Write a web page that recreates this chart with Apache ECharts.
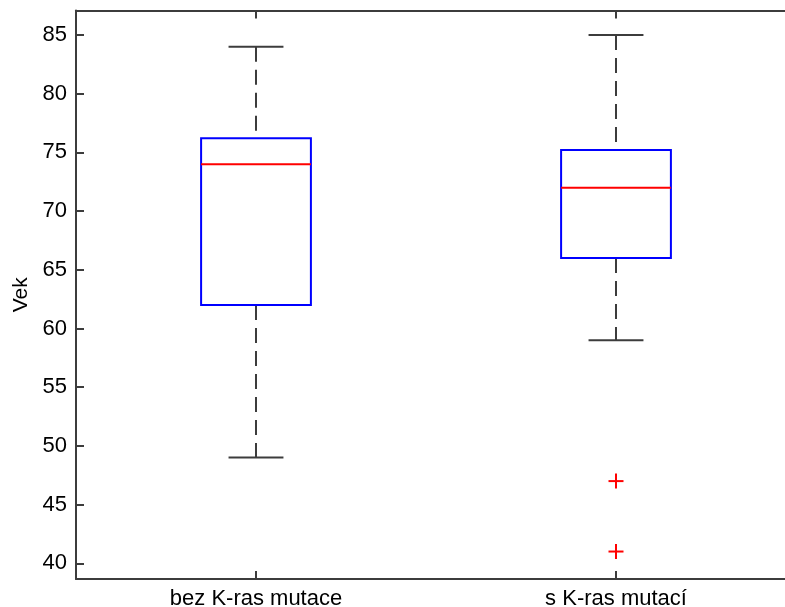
<!DOCTYPE html>
<html>
<head>
<meta charset="utf-8">
<script src="https://cdn.jsdelivr.net/npm/echarts@6/dist/echarts.min.js"></script>
<style>
  html, body { margin: 0; padding: 0; background: #fff; }
  #chart { width: 785px; height: 607px; }
</style>
</head>
<body>
<div id="chart"></div>
<script>
// Age distribution by K-ras mutation status
const categories = ['bez K-ras mutace', 's K-ras mutací'];
const lowerWhisker = [49, 59];
const q1 = [62, 66];
const median = [74, 72];
const q3 = [76.2, 75.2];
const upperWhisker = [84, 85];
const outlierGroup = [1, 1];
const outlierValues = [47, 41];

const FONT = '"Liberation Sans", Arial, sans-serif';
const AXIS_COLOR = '#3c3c3c';

const boxData = categories.map((c, i) => [i, lowerWhisker[i], q1[i], median[i], q3[i], upperWhisker[i]]);
const outlierData = outlierValues.map((v, i) => [outlierGroup[i], v]);

function renderBox(params, api) {
  const i = api.value(0);
  const band = api.size([1, 0])[0];
  const bw = band * 0.305;
  const cw = bw / 2;
  const x = api.coord([i, 0])[0];
  const yLo = api.coord([i, api.value(1)])[1];
  const yQ1 = api.coord([i, api.value(2)])[1];
  const yMed = api.coord([i, api.value(3)])[1];
  const yQ3 = api.coord([i, api.value(4)])[1];
  const yHi = api.coord([i, api.value(5)])[1];
  const dash = { stroke: AXIS_COLOR, lineWidth: 2, lineDash: [15, 8], fill: null };
  const solid = { stroke: AXIS_COLOR, lineWidth: 2, fill: null };
  return {
    type: 'group',
    children: [
      { type: 'line', shape: { x1: x, y1: yHi, x2: x, y2: yQ3 }, style: dash },
      { type: 'line', shape: { x1: x, y1: yQ1, x2: x, y2: yLo }, style: dash },
      { type: 'line', shape: { x1: x - cw / 2, y1: yHi, x2: x + cw / 2, y2: yHi }, style: solid },
      { type: 'line', shape: { x1: x - cw / 2, y1: yLo, x2: x + cw / 2, y2: yLo }, style: solid },
      { type: 'rect', shape: { x: x - bw / 2, y: yQ3, width: bw, height: yQ1 - yQ3 },
        style: { stroke: '#0000ff', lineWidth: 2, fill: null } },
      { type: 'line', shape: { x1: x - bw / 2, y1: yMed, x2: x + bw / 2, y2: yMed },
        style: { stroke: '#ff0000', lineWidth: 2 } }
    ]
  };
}

function renderPlus(params, api) {
  const p = api.coord([api.value(0), api.value(1)]);
  const h = 7.5;
  const st = { stroke: '#ff0000', lineWidth: 2 };
  return {
    type: 'group',
    children: [
      { type: 'line', shape: { x1: p[0] - h, y1: p[1], x2: p[0] + h, y2: p[1] }, style: st },
      { type: 'line', shape: { x1: p[0], y1: p[1] - h, x2: p[0], y2: p[1] + h }, style: st }
    ]
  };
}

const chart = echarts.init(document.getElementById('chart'), null, { renderer: 'canvas' });
chart.setOption({
  animation: false,
  backgroundColor: '#ffffff',
  textStyle: { fontFamily: FONT },
  grid: { left: 76, top: 10.5, width: 720, height: 568.5, containLabel: false, outerBoundsMode: 'none' },
  xAxis: [
    {
      type: 'category',
      data: categories,
      position: 'bottom',
      boundaryGap: true,
      axisLine: { show: true, lineStyle: { color: AXIS_COLOR, width: 2 } },
      axisTick: { show: true, inside: true, alignWithLabel: true, length: 8, lineStyle: { color: AXIS_COLOR, width: 2 } },
      axisLabel: { color: '#000', fontSize: 22, fontFamily: FONT, margin: 9 },
      splitLine: { show: false }
    },
    {
      type: 'category',
      data: categories,
      position: 'top',
      boundaryGap: true,
      axisLine: { show: true, lineStyle: { color: AXIS_COLOR, width: 2 } },
      axisTick: { show: true, inside: true, alignWithLabel: true, length: 8, lineStyle: { color: AXIS_COLOR, width: 2 } },
      axisLabel: { show: false },
      splitLine: { show: false }
    }
  ],
  yAxis: {
    type: 'value',
    min: 38.66,
    max: 87.09,
    splitNumber: 10,
    minInterval: 5,
    maxInterval: 5,
    name: 'Vek',
    nameLocation: 'middle',
    nameRotate: 90,
    nameGap: 44,
    nameTextStyle: { color: '#000', fontSize: 21, fontFamily: FONT },
    axisLine: { show: true, lineStyle: { color: AXIS_COLOR, width: 2 } },
    axisTick: { show: true, inside: true, length: 8, lineStyle: { color: AXIS_COLOR, width: 2 } },
    axisLabel: {
      color: '#000', fontSize: 22, fontFamily: FONT, margin: 9,
      showMinLabel: false, showMaxLabel: false,
      formatter: v => (Math.abs(v - Math.round(v / 5) * 5) < 1e-6 ? String(Math.round(v)) : '')
    },
    splitLine: { show: false }
  },
  series: [
    { type: 'custom', name: 'box', xAxisIndex: 0, renderItem: renderBox, data: boxData, encode: { x: 0, y: [1, 2, 3, 4, 5] }, z: 3 },
    { type: 'custom', name: 'outliers', xAxisIndex: 0, renderItem: renderPlus, data: outlierData, encode: { x: 0, y: 1 }, z: 4 }
  ]
});
</script>
</body>
</html>
